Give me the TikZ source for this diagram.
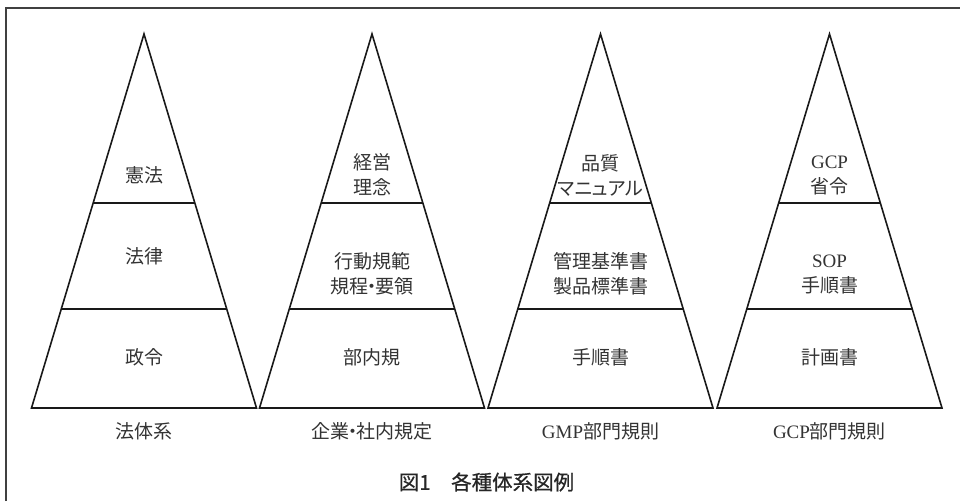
\documentclass[tikz,border=0pt]{standalone}
\usepackage{fontspec}
\usetikzlibrary{calc}
\setmainfont{Liberation Serif}
\newfontfamily\cjk{Noto Sans CJK JP}
\newfontfamily\cjkp{Noto Sans CJK JP}[RawFeature=+palt]
\newfontfamily\cjkcap{Noto Sans CJK JP}[FakeBold=0.6]
\newfontfamily\lat{Liberation Serif}
\newcommand{\ndot}{\kern-0.3em・\kern-0.3em}
\begin{document}
\begin{tikzpicture}[x=1pt,y=-1pt,
  frameline/.style={draw=black!75,line width=1.5pt},
  pyr/.style={draw=black!90,line width=1.6pt,line join=miter},
  divline/.style={draw=black!90,line width=1.6pt},
  lvl/.style={font=\cjk\fontsize{19}{25}\selectfont,text=black!80,align=center,inner sep=0pt},
  sublabel/.style={font=\cjk\fontsize{19}{25}\selectfont,text=black!80,inner sep=0pt},
  figtitle/.style={font=\cjkcap\fontsize{20.5}{24}\selectfont,text=black!85,inner sep=0pt}]
\useasboundingbox (0,0) rectangle (960,501);
\coordinate (fb) at (6,501);
\coordinate (ftl) at (6,8);
\coordinate (fr) at (960,8);
\draw[frameline] (fb) -- (ftl) -- (fr);
\foreach \n/\cx in {1/144,2/372,3/600.5,4/829.5}{
  \coordinate (apex\n) at (\cx,34);
  \coordinate (bl\n) at (\cx-112.5,408);
  \coordinate (br\n) at (\cx+112.5,408);
  \coordinate (ual\n) at ($(apex\n)!0.4519!(bl\n)$);
  \coordinate (uar\n) at ($(apex\n)!0.4519!(br\n)$);
  \coordinate (lal\n) at ($(apex\n)!0.7353!(bl\n)$);
  \coordinate (lar\n) at ($(apex\n)!0.7353!(br\n)$);
  \draw[pyr] (apex\n) -- (bl\n) -- (br\n) -- cycle;
  \draw[divline] (ual\n) -- (uar\n);
  \draw[divline] (lal\n) -- (lar\n);
}
% pyramid 1
\node[lvl] (a1) at (144,175) {憲法};
\node[lvl] (a2) at (144,256) {法律};
\node[lvl] (a3) at (144,357) {政令};
\node[sublabel] (al) at (144,431) {法体系};
% pyramid 2
\node[lvl] (b1) at (372,175) {経営\\理念};
\node[lvl] (b2) at (372,274) {行動規範\\規程\ndot 要領};
\node[lvl] (b3) at (372,357) {部内規};
\node[sublabel] (bl) at (372,431) {企業\ndot 社内規定};
% pyramid 3
\node[lvl] (c1) at (600.5,175) {品質\\{\cjkp\fontsize{19}{25}\selectfont マニュアル}};
\node[lvl] (c2) at (600.5,274) {管理基準書\\製品標準書};
\node[lvl] (c3) at (600.5,357) {手順書};
\node[sublabel] (cl) at (600.5,431) {{\lat GMP}部門規則};
% pyramid 4
\node[lvl] (d1) at (829.5,175) {{\lat GCP}\\省令};
\node[lvl] (d2) at (829.5,274) {{\lat SOP}\\手順書};
\node[lvl] (d3) at (829.5,357) {計画書};
\node[sublabel] (dl) at (829.5,431) {{\lat GCP}部門規則};
% caption
\node[figtitle] (fig) at (486.5,482) {図1　各種体系図例};
\end{tikzpicture}
\end{document}
